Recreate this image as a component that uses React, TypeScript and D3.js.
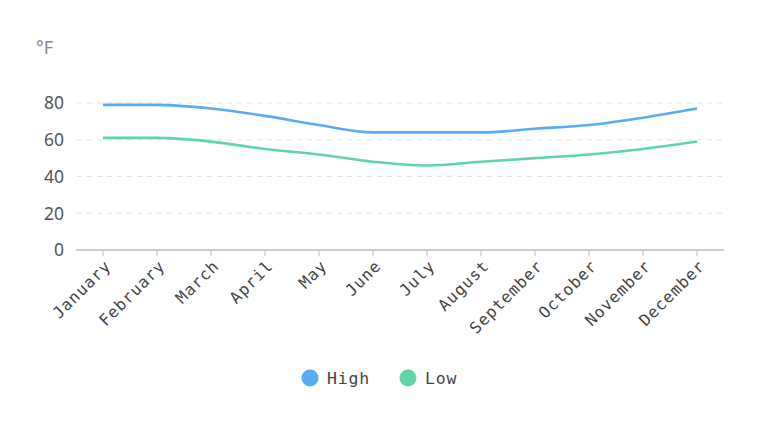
import React from 'react';
import * as d3 from 'd3';

const months = ['January', 'February', 'March', 'April', 'May', 'June', 'July', 'August', 'September', 'October', 'November', 'December'];
const highTemps = [79, 79, 77, 73, 68, 64, 64, 64, 66, 68, 72, 77];
const lowTemps = [61, 61, 59, 55, 52, 48, 46, 48, 50, 52, 55, 59];
const yTicks = [0, 20, 40, 60, 80];

const series = [
  { name: 'High', values: highTemps, color: '#58abf5' },
  { name: 'Low', values: lowTemps, color: '#5fd6a9' },
];

const W = 760;
const H = 430;
const mono = '"DejaVu Sans Mono", monospace';
const sans = '"Noto Sans", "DejaVu Sans", sans-serif';

const App: React.FC = () => {
  const x = d3.scaleBand<string>().domain(months).range([76, 724]);
  const y = d3.scaleLinear().domain([0, 80]).range([250, 103]);
  const cx = (m: string) => (x(m) || 0) + x.bandwidth() / 2;

  const line = d3
    .line<number>()
    .x((_, i) => cx(months[i]))
    .y((d) => y(d))
    .curve(d3.curveMonotoneX);

  return (
    <svg width={W} height={H} style={{ position: 'absolute', left: 0, top: 0 }}>
      <text x={36} y={54} fontSize={18} fill="#8a8a8a" fontFamily={sans}>°F</text>

      {yTicks.map((t) => (
        <g key={t}>
          {t > 0 && (
            <line x1={77} x2={724} y1={y(t)} y2={y(t)} stroke="#e2e2e2" strokeDasharray="5,5" />
          )}
          <text x={64} y={y(t)} dy="0.36em" textAnchor="end" fontSize={17.5} fill="#555" fontFamily={sans}>
            {t}
          </text>
        </g>
      ))}

      <line x1={76} x2={724} y1={250} y2={250} stroke="#bbb" strokeWidth={1.5} />
      {months.map((m) => (
        <g key={m}>
          <line x1={cx(m)} x2={cx(m)} y1={250} y2={256} stroke="#bbb" />
          <text
            transform={`translate(${cx(m) + 5},${263}) rotate(-45)`}
            textAnchor="end"
            dy="0.35em"
            fontSize={16}
            letterSpacing={1}
            fill="#444"
            fontFamily={mono}
          >
            {m}
          </text>
        </g>
      ))}

      {series.map((s) => (
        <path key={s.name} d={line(s.values) || undefined} fill="none" stroke={s.color} strokeWidth={2.6} />
      ))}

      {series.map((s, i) => (
        <g key={s.name} transform={`translate(${310 + i * 98},378)`}>
          <circle r={8.5} fill={s.color} />
          <text x={17} dy="0.35em" fontSize={16.5} letterSpacing={0.8} fill="#444" fontFamily={mono}>{s.name}</text>
        </g>
      ))}
    </svg>
  );
};

export default App;
